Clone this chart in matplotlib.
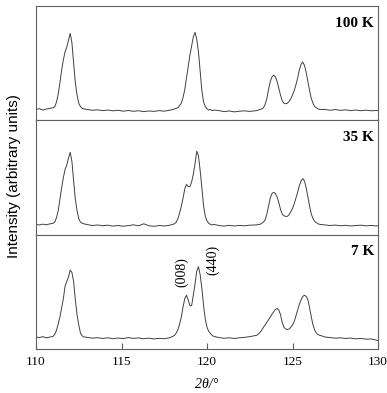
import matplotlib
matplotlib.use('Agg')
import matplotlib.pyplot as plt
import numpy as np

# 2theta sampling positions (degrees), denser across the peaks
two_theta = [
    110.0, 110.2, 110.4, 110.6, 110.8,
    111.0, 111.1, 111.2, 111.3, 111.4, 111.5, 111.6, 111.7, 111.8, 111.9,
    112.0, 112.1, 112.2, 112.3, 112.4, 112.5, 112.6, 112.7, 112.8,
    113.0, 113.3, 113.6, 113.9, 114.2, 114.5, 114.8, 115.1, 115.4, 115.7,
    116.0, 116.3, 116.6, 116.9, 117.2, 117.5, 117.8,
    118.0, 118.1, 118.2, 118.3, 118.4, 118.5, 118.6, 118.7, 118.8, 118.9,
    119.0, 119.1, 119.2, 119.3, 119.4, 119.5, 119.6, 119.7, 119.8, 119.9,
    120.0, 120.1, 120.2, 120.3, 120.4,
    120.7, 121.0, 121.3, 121.6, 121.9, 122.2, 122.5,
    122.9, 123.0, 123.1, 123.2, 123.3, 123.4, 123.5, 123.6, 123.7, 123.8,
    123.9, 124.0, 124.1, 124.2, 124.3, 124.4, 124.5, 124.6, 124.7, 124.8,
    124.9, 125.0, 125.1, 125.2, 125.3, 125.4, 125.5, 125.6, 125.7, 125.8,
    125.9, 126.0, 126.1, 126.2, 126.3, 126.4, 126.5, 126.6,
    126.9, 127.2, 127.5, 127.8, 128.1, 128.4, 128.7, 129.0, 129.3, 129.6,
    129.9, 130.0,
]

# intensities (arbitrary units, panel height = 100)
intensity_100K = [
    9.5, 10.2, 9.0, 9.8, 10.5,
    11, 12, 16, 23, 33, 44, 53, 60, 64, 70,
    76, 68, 50, 33, 22, 15, 12, 10.5, 10,
    9.5, 8.8, 9.2, 8.5, 9.0, 8.3, 8.8, 8.0, 8.6, 7.9,
    8.4, 7.6, 8.2, 7.8, 8.5, 8.0, 8.8,
    9.5, 10, 10.5, 11, 13, 15, 20, 27, 37, 47,
    57, 65, 73, 77, 71, 60, 43, 26, 16, 12,
    10, 9, 9.5, 8.5, 9,
    8.5, 7.6, 8.2, 7.4, 8.0, 8.3, 7.8,
    8.5, 9, 9.5, 10, 11, 14, 19, 27, 34, 38,
    39.5, 38, 34, 28, 22, 17, 15, 14.5, 15, 16.5,
    19, 22, 26, 31, 37, 44, 49, 51, 48, 42,
    34, 26, 19, 15, 12, 11, 10, 9.5,
    9.5, 8.8, 9.4, 8.7, 9.2, 8.5, 9.0, 8.4, 8.9, 8.3,
    8.7, 8.5,
]

intensity_35K = [
    9.0, 8.5, 9.2, 8.6, 9.4,
    10, 11, 15, 21, 31, 41, 50, 57, 61, 67,
    72, 64, 47, 31, 21, 14, 11, 10, 9.5,
    8.8, 8.0, 8.5, 7.8, 8.3, 7.5, 8.0, 7.4, 7.9, 8.6,
    7.8, 9.5, 7.8, 7.3, 8.0, 7.6, 8.2,
    9, 9.5, 11, 14, 19, 25, 32, 40, 44, 42,
    42, 46, 53, 62, 73, 69, 56, 41, 25, 16,
    12, 10, 9, 8.5, 9,
    8.0, 7.5, 8.2, 7.6, 8.1, 7.8, 8.3,
    8.5, 9, 9, 10, 11, 13, 18, 25, 32, 36,
    37, 36, 33, 28, 22, 18, 16.5, 16, 16, 17.5,
    20, 23, 27, 32, 37, 43, 47, 49, 47, 41,
    33, 25, 18, 14, 11.5, 10.5, 9.5, 9,
    8.5, 8.0, 8.4, 7.8, 8.2, 7.6, 8.0, 8.3, 7.7, 8.1,
    7.6, 7.8,
]

intensity_7K = [
    10.5, 10.0, 10.8, 9.8, 10.4,
    11, 13, 16.5, 22, 28, 36, 44, 55, 59, 63,
    69, 67, 59, 43, 30, 21, 14, 11.5, 10.5,
    10.2, 9.5, 9.9, 9.2, 9.8, 9.0, 9.6, 9.1, 10.0, 9.3,
    9.7, 9.0, 9.5, 8.8, 9.3, 9.0, 9.8,
    11, 12, 14, 17, 22, 28, 37, 44, 47, 43,
    38, 38, 47, 57, 68, 72, 65, 53, 38, 26,
    19, 15.5, 13.5, 12, 11,
    10.0, 9.4, 9.8, 9.2, 9.8, 10.2, 10.8,
    12, 13, 14.5, 16.5, 19, 21, 23.5, 25.5, 28, 30.5,
    32.5, 34.5, 35.5, 34, 30, 23, 19, 17.5, 17, 17.5,
    19, 21, 24, 29, 34, 39, 43, 46, 47, 46,
    43, 36, 28, 21, 16.5, 14, 12.5, 12,
    10.5, 10.0, 9.5, 9.8, 9.2, 9.6, 8.9, 9.3, 8.6, 8.8,
    7.8, 7.2,
]

panel_labels = ['100 K', '35 K', '7 K']
peak_labels = ['(008)', '(440)']
peak_label_x = [118.54, 120.35]
peak_label_y = [67, 78]

serif = 'Liberation Serif'
sans = 'Liberation Sans'

fig = plt.figure(figsize=(3.87, 3.93), dpi=100)
left, right = 36 / 387, 378 / 387
top, bottom = 1 - 6 / 393, 1 - 349 / 393
h = (top - bottom) / 3

series = [intensity_100K, intensity_35K, intensity_7K]
axes = []
for i, (vals, lab) in enumerate(zip(series, panel_labels)):
    ax = fig.add_axes([left, top - (i + 1) * h, right - left, h])
    ax.plot(two_theta, vals, color='#404040', lw=0.7)
    ax.set_xlim(110, 130)
    ax.set_ylim(0, 100)
    ax.set_yticks([])
    for sp in ax.spines.values():
        sp.set_color('#606060')
        sp.set_linewidth(0.8)
    ax.text(0.988, 0.85, lab, transform=ax.transAxes, ha='right', va='center',
            fontsize=11, fontweight='bold', family=serif)
    if i < 2:
        ax.set_xticks([])
    axes.append(ax)

ax = axes[-1]
ax.set_xticks([110, 115, 120, 125, 130])
ax.tick_params(axis='x', direction='in', length=4, width=0.8, color='#606060',
               pad=5, labelsize=9.5)
for t in ax.get_xticklabels():
    t.set_family(serif)
for lx, ly, txt in zip(peak_label_x, peak_label_y, peak_labels):
    ax.text(lx, ly, txt, rotation=90, ha='center', va='center',
            fontsize=10, family=serif)

fig.text(207 / 387, 1 - 384 / 393, '2θ/°', ha='center', va='center',
         fontsize=10, family=serif, fontstyle='italic')
fig.text(14 / 387, 1 - 176 / 393, 'Intensity (arbitrary units)', rotation=90,
         ha='center', va='center', fontsize=11, family=sans)

fig.savefig('out.png', dpi=100)
